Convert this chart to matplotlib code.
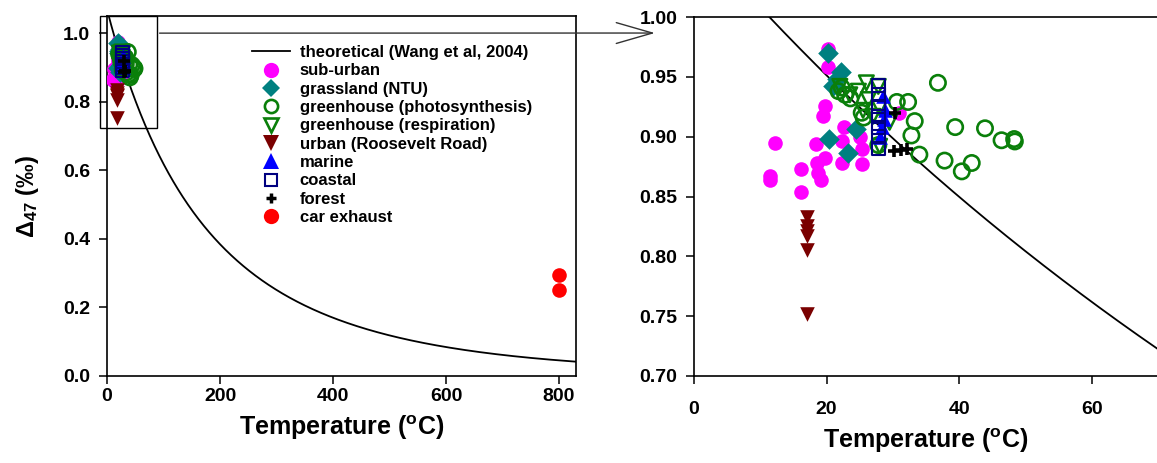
import numpy as np
import matplotlib
matplotlib.use("Agg")
import matplotlib.pyplot as plt
from matplotlib.patches import Rectangle, ConnectionPatch
from matplotlib.lines import Line2D

plt.rcParams['font.family'] = ['Liberation Sans', 'DejaVu Sans']
plt.rcParams['font.weight'] = 'bold'
plt.rcParams['mathtext.fontset'] = 'custom'
plt.rcParams['mathtext.rm'] = 'Liberation Sans:bold'
plt.rcParams['mathtext.bf'] = 'Liberation Sans:bold'
plt.rcParams['mathtext.it'] = 'Liberation Sans:bold'

# ---------------- data ----------------
sub_T = [20.2, 20.2, 19.7, 19.4, 12.2, 18.4, 22.6, 22.3, 25.0, 25.3, 19.7, 18.5, 16.2,
         22.3, 25.3, 18.7, 11.5, 11.5, 19.2, 16.2, 31.0]
sub_D = [0.973, 0.958, 0.926, 0.917, 0.895, 0.894, 0.908, 0.896, 0.900, 0.890, 0.882, 0.878, 0.873,
         0.878, 0.877, 0.870, 0.867, 0.864, 0.864, 0.854, 0.920]

grass_T = [20.2, 22.2, 21.5, 21.0, 20.3, 24.5, 23.3]
grass_D = [0.970, 0.954, 0.948, 0.942, 0.898, 0.906, 0.886]

photo_T = [21.8, 22.3, 22.8, 23.6, 25.3, 25.6, 27.8, 30.6, 32.3, 33.3, 32.8, 34.0, 36.8,
           39.4, 43.9, 46.4, 48.3, 48.4, 37.8, 40.4, 41.9]
photo_D = [0.938, 0.941, 0.935, 0.932, 0.920, 0.916, 0.893, 0.929, 0.929, 0.913, 0.901, 0.885, 0.945,
           0.908, 0.907, 0.897, 0.898, 0.896, 0.880, 0.871, 0.878]

resp_T = [22.0, 26.0, 27.8, 24.8, 26.3, 25.5, 28.0, 29.5, 28.0, 23.5, 27.0]
resp_D = [0.942, 0.945, 0.942, 0.938, 0.931, 0.922, 0.924, 0.912, 0.892, 0.935, 0.917]

urban_T = [17.0, 17.0, 17.0, 17.0, 17.0, 17.0]
urban_D = [0.833, 0.825, 0.821, 0.817, 0.805, 0.752]

marine_T = [28.5, 28.8, 28.6, 28.3, 28.0]
marine_D = [0.934, 0.922, 0.915, 0.908, 0.900]

coastal_T = [27.8, 27.8, 27.8, 27.8, 27.8, 27.8, 27.8]
coastal_D = [0.943, 0.935, 0.925, 0.917, 0.908, 0.900, 0.890]

forest_T = [30.3, 30.2, 31.2, 32.2]
forest_D = [0.920, 0.888, 0.889, 0.890]

car_T = [800.0, 800.0]
car_D = [0.295, 0.252]

# Wang et al. (2004) theoretical polynomial coefficients (in 1000/T, K)
wang_coef = [0.003, -0.0438, 0.2553, -0.2195, 0.0616]

labels = ['theoretical (Wang et al, 2004)', 'sub-urban', 'grassland (NTU)',
          'greenhouse (photosynthesis)', 'greenhouse (respiration)',
          'urban (Roosevelt Road)', 'marine', 'coastal', 'forest', 'car exhaust']


def wang(tc):
    x = 1000.0 / (np.asarray(tc) + 273.15)
    return np.polyval(wang_coef, x)


W, H = 1157, 463
fig = plt.figure(figsize=(W / 100, H / 100), dpi=100)
ax1 = fig.add_axes([107 / W, (H - 376) / H, (576 - 107) / W, (376 - 16) / H])
ax2 = fig.add_axes([694 / W, (H - 376) / H, (1158 - 694) / W, (376 - 17) / H])

ms = 10.5
GREEN = '#0A7F0A'


def draw(ax, curve_T):
    ax.plot(curve_T, wang(curve_T), color='black', lw=1.3, zorder=2)
    ax.scatter(sub_T, sub_D, s=ms**2, marker='o', color='#FF00FF', linewidths=0, zorder=3)
    ax.scatter(grass_T, grass_D, s=(ms * 1.0)**2, marker='D', color='#008080', linewidths=0, zorder=3)
    ax.scatter(photo_T, photo_D, s=(ms * 1.05)**2, marker='o', facecolors='none', edgecolors=GREEN, linewidths=1.9, zorder=4)
    ax.scatter(resp_T, resp_D, s=(ms * 1.0)**2, marker='v', facecolors='none', edgecolors=GREEN, linewidths=1.8, zorder=4)
    ax.scatter(urban_T, urban_D, s=(ms * 1.0)**2, marker='v', color='#7A0000', linewidths=0, zorder=4)
    ax.scatter(marine_T, marine_D, s=(ms * 1.0)**2, marker='^', color='#0000FF', linewidths=0, zorder=4)
    ax.scatter(coastal_T, coastal_D, s=(ms * 0.9)**2, marker='s', facecolors='none', edgecolors='#000080', linewidths=1.5, zorder=5)
    ax.scatter(forest_T, forest_D, s=(ms * 0.85)**2, marker='+', color='black', linewidths=2.6, zorder=5)
    ax.scatter(car_T, car_D, s=ms**2, marker='o', color='#FF0000', linewidths=0, zorder=4)


T1 = np.linspace(0, 830, 800)
T2 = np.linspace(0.5, 70, 400)
draw(ax1, T1)
draw(ax2, T2)

for ax in (ax1, ax2):
    for s in ax.spines.values():
        s.set_linewidth(1.2)
    ax.tick_params(direction='out', length=6, width=1.1, labelsize=14, pad=6)

ax1.tick_params(axis='x', pad=2.5)
ax2.tick_params(axis='x', pad=12)

ax1.set_xlim(0, 830)
ax1.set_ylim(0, 1.05)
ax1.set_xticks([0, 200, 400, 600, 800])
ax1.set_yticks([0.0, 0.2, 0.4, 0.6, 0.8, 1.0])
ax1.set_yticklabels(['0.0', '0.2', '0.4', '0.6', '0.8', '1.0'])

ax2.set_xlim(0, 70)
ax2.set_ylim(0.70, 1.00)
ax2.set_xticks([0, 20, 40, 60])
ax2.set_yticks([0.70, 0.75, 0.80, 0.85, 0.90, 0.95, 1.00])
ax2.set_yticklabels(['0.70', '0.75', '0.80', '0.85', '0.90', '0.95', '1.00'])

for ax in (ax1, ax2):
    for lab in ax.get_xticklabels() + ax.get_yticklabels():
        lab.set_fontweight('bold')
    ax.set_xlabel(r'Temperature ($^{\mathrm{o}}$C)', fontsize=18, fontweight='bold', labelpad=6)

ax1.set_ylabel(r'$\Delta_{47}$ (‰)', fontsize=17, fontweight='bold', labelpad=16)

# zoom box on left panel
rect = Rectangle((-12, 0.723), 100, 1.05 - 0.723, fill=False, edgecolor='black', lw=1.0,
                 clip_on=False, zorder=6)
ax1.add_patch(rect)

con = ConnectionPatch(xyA=(93, 1.0), coordsA=ax1.transData,
                      xyB=(-5.9, 0.9866), coordsB=ax2.transData,
                      arrowstyle='->,head_length=2.6,head_width=0.75',
                      color='#333333', lw=1.0, mutation_scale=10)
fig.add_artist(con)

# legend
handles = [
    Line2D([], [], color='black', lw=1.3),
    Line2D([], [], ls='none', marker='o', ms=11, color='#FF00FF', mew=0),
    Line2D([], [], ls='none', marker='D', ms=9.5, color='#008080', mew=0),
    Line2D([], [], ls='none', marker='o', ms=9.5, mfc='none', mec=GREEN, mew=1.9),
    Line2D([], [], ls='none', marker='v', ms=10, mfc='none', mec=GREEN, mew=1.9),
    Line2D([], [], ls='none', marker='v', ms=11, color='#7A0000', mew=0),
    Line2D([], [], ls='none', marker='^', ms=11, color='#0000FF', mew=0),
    Line2D([], [], ls='none', marker='s', ms=9, mfc='none', mec='#000080', mew=1.5),
    Line2D([], [], ls='none', marker='+', ms=7, color='black', mew=2.5),
    Line2D([], [], ls='none', marker='o', ms=11, color='#FF0000', mew=0),
]
leg = ax1.legend(handles, labels, loc='upper left',
                 bbox_to_anchor=(252 / W, (H - 45) / H), bbox_transform=fig.transFigure,
                 frameon=False, fontsize=12, handlelength=2.3, handletextpad=0.55,
                 labelspacing=0.2, borderpad=0, borderaxespad=0)
for t in leg.get_texts():
    t.set_fontweight('bold')

fig.savefig('out.png', dpi=100)
